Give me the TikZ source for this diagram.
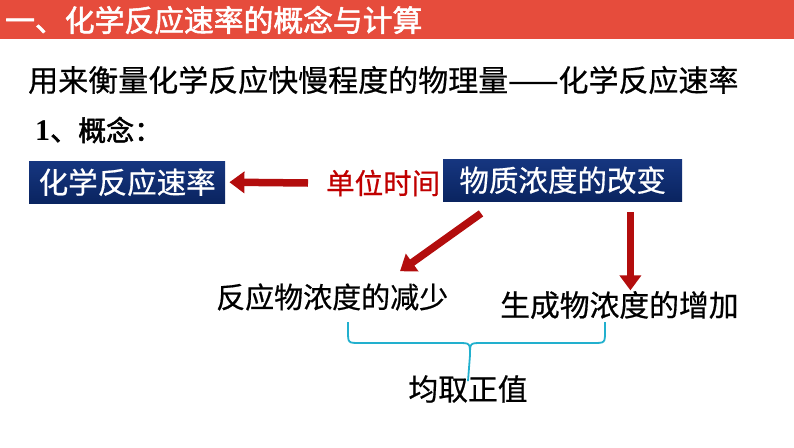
\documentclass[tikz,border=0pt]{standalone}
\usepackage{fontspec}
\setmainfont{Noto Sans CJK SC}
\newfontfamily\zh{Noto Sans CJK SC}[FakeBold=0.6]
\newfontfamily\zhb{Noto Sans CJK SC}[FakeBold=1.8]
\newfontfamily\numfont{Liberation Serif}
\usetikzlibrary{arrows.meta,positioning}

\begin{document}
\begin{tikzpicture}[x=1pt, y=-1pt,
  txt/.style={inner sep=0pt, anchor=west, font=\zh\fontsize{29.8}{32}\selectfont},
  bluebox/.style={anchor=north west, inner sep=0pt, text=white, top color=zBlueT, bottom color=zBlueB, font=\zh\fontsize{29.5}{32}\selectfont},
  bigarrow/.style={-{Triangle[length=15pt,width=21pt]}, line width=7.5pt, draw=zArr},
  brace/.style={draw=zCyan, line width=1.8pt},
]
\definecolor{zBan}{HTML}{E64C3C}
\definecolor{zBlueT}{HTML}{163680}\definecolor{zBlueB}{HTML}{0A2460}
\definecolor{zArr}{HTML}{B30D0D}\definecolor{zRedT}{HTML}{C00000}
\definecolor{zCyan}{HTML}{22B0CE}
\useasboundingbox (0,0) rectangle (794,447);
% ---- banner ----
\fill[zBan] (0,0) rectangle (794,39);
\node[txt, text=white, font=\zhb\fontsize{29.8}{32}\selectfont] (title) at (5,20) {一、化学反应速率的概念与计算};
% ---- lines of text ----
\node[txt, font=\zh\fontsize{30}{32}\selectfont] (intro) at (28,80) {用来衡量化学反应快慢程度的物理量——化学反应速率};
\node[txt, font=\zhb\fontsize{28}{32}\selectfont] (concept) at (35,130) {{\numfont\bfseries\fontsize{30}{32}\selectfont 1}、概念：};
% ---- boxes ----
\node[bluebox, minimum width=196pt, minimum height=42pt] (rate) at (29,161) {化学反应速率};
\node[bluebox, minimum width=239pt, minimum height=42pt] (change) at (443,159) {物质浓度的改变};
\node[txt, text=zRedT, font=\zh\fontsize{28.5}{32}\selectfont] (unit) at (326,183) {单位时间};
% ---- results ----
\node[txt, font=\zh\fontsize{29}{32}\selectfont] (dec) at (216,297) {反应物浓度的减少};
\node[txt] (inc) at (500,305) {生成物浓度的增加};
\node[txt, anchor=center] (pos) at (468,389) {均取正值};
% ---- arrows ----
\draw[bigarrow] ([xshift=-18pt]unit.west) -- ([xshift=4pt]rate.east);
\draw[bigarrow] ([xshift=38pt,yshift=-12pt]change.south west) -- ([xshift=184pt,yshift=12pt]dec.north west);
\draw[bigarrow] ([xshift=-52pt,yshift=-11pt]change.south east) -- ([xshift=-52pt,yshift=-89pt]change.south east);
% ---- brace ----
\coordinate (bl) at (348,322);
\coordinate (br) at (605,322);
\coordinate (bm) at ([yshift=-6pt]pos.north);
\draw[brace] (bl) -- ++(0,9) .. controls ++(0,12) .. ++(12,12) -- (458,343) .. controls (470,343) .. (470,355) -- (bm);
\draw[brace] (br) -- ++(0,9) .. controls ++(0,12) .. ++(-12,12) -- (482,343) .. controls (470,343) .. (470,355);
\end{tikzpicture}
\end{document}
